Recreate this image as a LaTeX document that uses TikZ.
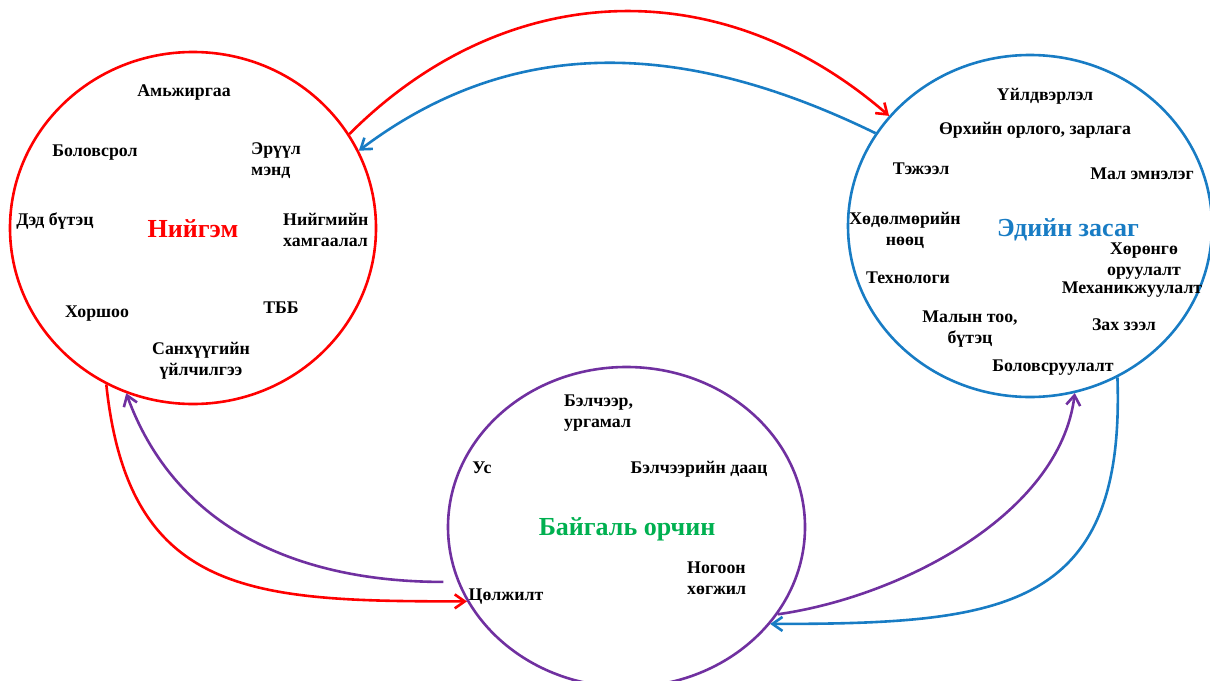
\documentclass[tikz,border=0pt]{standalone}
\usepackage{fontspec}
\setmainfont{Liberation Serif}
\usetikzlibrary{shapes.geometric,arrows.meta}
\definecolor{nred}{RGB}{255,0,0}
\definecolor{eblue}{RGB}{24,124,196}
\definecolor{bpurple}{RGB}{112,48,160}
\definecolor{bgreen}{RGB}{0,176,80}
\begin{document}
\begin{tikzpicture}[x=1pt,y=-1pt,
  sphere/.style={draw, ellipse, line width=2.6pt, inner sep=0pt},
  item/.style={font=\fontsize{17.8}{20.5}\selectfont\bfseries, inner sep=0pt, anchor=base},
  itemL/.style={item, align=left, anchor=base west},
  itemC/.style={item, align=center},
  title/.style={font=\fontsize{26}{30}\selectfont\bfseries, inner sep=0pt, anchor=base},
  link/.style={line width=2.6pt, -{Straight Barb[length=10pt,width=14pt]}},
]
\useasboundingbox (0,0) rectangle (1210,680);

% the three spheres
\node[sphere, nred, minimum width=366pt, minimum height=352pt] (L) at (193,228) {};
\node[sphere, eblue, minimum width=364pt, minimum height=342pt] (R) at (1030,226) {};
\node[sphere, bpurple, minimum width=357pt, minimum height=320pt] (B) at (626.5,527) {};

% society (two-line labels are placed by the baseline of their last line)
\node[title, nred] (tL) at (193,237) {Нийгэм};
\node[item] (amj) at (184,96) {Амьжиргаа};
\node[item] (bol) at (95,156) {Боловсрол};
\node[itemL] (eru) at (251,175) {Эрүүл\\мэнд};
\node[item] (ded) at (55,225) {Дэд бүтэц};
\node[itemL] (nhm) at (283,246) {Нийгмийн\\хамгаалал};
\node[item] (hor) at (97,317) {Хоршоо};
\node[item] (tbb) at (281,313) {ТББ};
\node[itemC] (san) at (201,375) {Санхүүгийн\\үйлчилгээ};

% economy
\node[title, eblue] (tR) at (1068,236) {Эдийн засаг};
\node[item] (uil) at (1045,100) {Үйлдвэрлэл};
\node[item] (orh) at (1035,134) {Өрхийн орлого, зарлага};
\node[item] (tej) at (921,174) {Тэжээл};
\node[item] (mal) at (1142,179) {Мал эмнэлэг};
\node[itemC] (hod) at (905,245) {Хөдөлмөрийн\\нөөц};
\node[itemC] (hrn) at (1144,275) {Хөрөнгө\\оруулалт};
\node[item] (mex) at (1132,293) {Механикжуулалт};
\node[item] (tex) at (908,283) {Технологи};
\node[itemC] (mly) at (970,343) {Малын тоо,\\бүтэц};
\node[item] (zah) at (1124,330) {Зах зээл};
\node[item] (bls) at (1053,371) {Боловсруулалт};

% environment
\node[title, bgreen] (tB) at (627,535) {Байгаль орчин};
\node[itemL] (bel) at (564,427) {Бэлчээр,\\ургамал};
\node[item] (us) at (482,473) {Ус};
\node[item] (daa) at (699,473) {Бэлчээрийн даац};
\node[itemL] (nog) at (687,594) {Ногоон\\хөгжил};
\node[item] (tsl) at (506,600) {Цөлжилт};

% links between the spheres
\draw[link, nred] (L.31) to[out=45, in=139, looseness=1.05] (R.142);
\draw[link, eblue] (R.149) to[out=154, in=37] (L.25);
\draw[link, nred] (L.241) to[out=-84, in=180, looseness=1.3] (B.205);
\draw[link, bpurple] ([xshift=-14pt]B.198) to[out=180, in=-70] (L.248);
\draw[link, bpurple] (B.330) to[out=8, in=-97, looseness=0.85] (R.285);
\draw[link, eblue] (R.300) to[out=-88, in=0, looseness=1.4] (B.326);
\end{tikzpicture}
\end{document}
